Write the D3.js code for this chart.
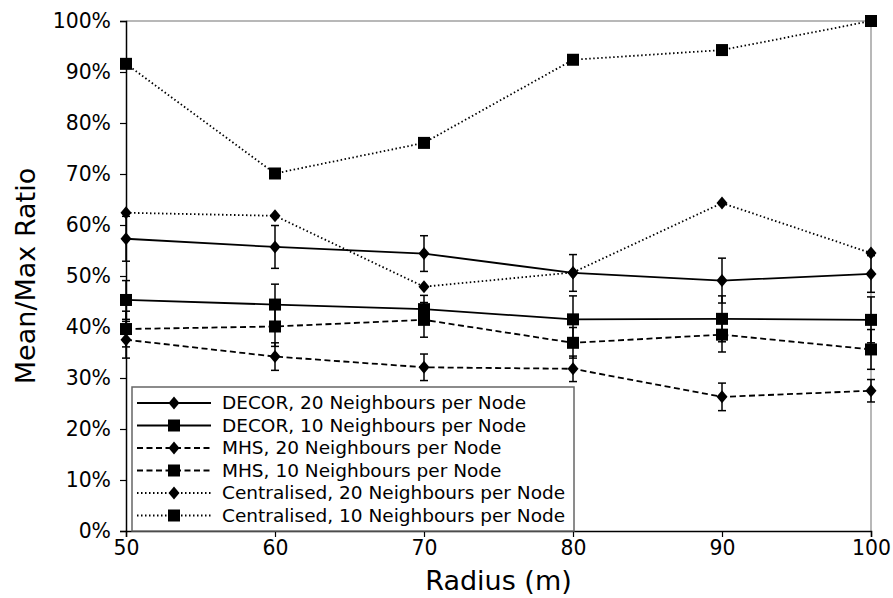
<!DOCTYPE html>
<html lang="en">
<head>
<meta charset="UTF-8">
<title>Mean/Max Ratio vs Radius</title>
<style>
    body { margin: 0; background: #fff; }
    text { font-family: "DejaVu Sans", sans-serif; fill: #000; }
</style>
</head>
<body>
<script src="https://d3js.org/d3.v7.min.js"></script>
<script>
    // radius values on the x axis
    const radius = [50, 60, 70, 80, 90, 100];
    const yTicks = [0, 10, 20, 30, 40, 50, 60, 70, 80, 90, 100];

    // mean/max ratio (%) and error bar half-widths
    const decor20 = [57.3, 55.7, 54.4, 50.6, 49.1, 50.4];
    const decor20Err = [4.4, 4.2, 3.5, 3.6, 4.4, 3.6];
    const decor10 = [45.3, 44.4, 43.5, 41.5, 41.6, 41.4];
    const decor10Err = [3.8, 4.0, 2.7, 4.6, 4.5, 4.5];
    const mhs20 = [37.5, 34.2, 32.1, 31.8, 26.3, 27.5];
    const mhs20Err = [3.6, 2.7, 2.6, 2.5, 2.7, 2.2];
    const mhs10 = [39.6, 40.1, 41.4, 36.9, 38.5, 35.6];
    const mhs10Err = [3.5, 3.9, 3.4, 3.0, 3.4, 3.9];
    const central20 = [62.4, 61.8, 47.9, 50.7, 64.3, 54.5];
    const central10 = [91.6, 70.1, 76.1, 92.4, 94.3, 100];

    const series = [
        { name: 'DECOR, 20 Neighbours per Node', values: decor20, err: decor20Err, dash: null, marker: 'diamond' },
        { name: 'DECOR, 10 Neighbours per Node', values: decor10, err: decor10Err, dash: null, marker: 'square' },
        { name: 'MHS, 20 Neighbours per Node', values: mhs20, err: mhs20Err, dash: '6,3.5', marker: 'diamond' },
        { name: 'MHS, 10 Neighbours per Node', values: mhs10, err: mhs10Err, dash: '6,3.5', marker: 'square' },
        { name: 'Centralised, 20 Neighbours per Node', values: central20, err: null, dash: '1.5,2.5', marker: 'diamond' },
        { name: 'Centralised, 10 Neighbours per Node', values: central10, err: null, dash: '1.5,2.5', marker: 'square' }
    ];

    const width = 893, height = 598;
    const x = d3.scaleLinear().domain([50, 100]).range([126, 871]);
    const y = d3.scaleLinear().domain([0, 100]).range([531, 21]);

    const svg = d3.select('body').append('svg')
        .attr('width', width)
        .attr('height', height);

    // frame: grey top/right, black left/bottom
    svg.append('line').attr('x1', x(50)).attr('x2', x(100)).attr('y1', y(100)).attr('y2', y(100))
        .attr('stroke', '#a0a0a0').attr('stroke-width', 1.5);
    svg.append('line').attr('x1', x(100)).attr('x2', x(100)).attr('y1', y(0)).attr('y2', y(100))
        .attr('stroke', '#a0a0a0').attr('stroke-width', 1.5);

    const xAxis = svg.append('g')
        .attr('transform', `translate(0,${y(0)})`)
        .call(d3.axisBottom(x).tickValues(radius).tickSize(6).tickPadding(4));
    const yAxis = svg.append('g')
        .attr('transform', `translate(${x(50)},0)`)
        .call(d3.axisLeft(y).tickValues(yTicks).tickFormat(d => d + '%').tickSize(6).tickPadding(9));

    [xAxis, yAxis].forEach(a => {
        a.select('.domain').attr('stroke', '#000').attr('stroke-width', 1.5);
        a.selectAll('.tick line').attr('stroke', '#000').attr('stroke-width', 1.2);
        a.selectAll('.tick text').style('font-size', '20.4px').style('font-family', '"DejaVu Sans", sans-serif');
    });

    svg.append('text')
        .attr('x', (x(50) + x(100)) / 2)
        .attr('y', 590)
        .attr('text-anchor', 'middle')
        .style('font-size', '27px')
        .text('Radius (m)');

    svg.append('text')
        .attr('transform', `translate(35,${(y(0) + y(100)) / 2}) rotate(-90)`)
        .attr('text-anchor', 'middle')
        .style('font-size', '27px')
        .text('Mean/Max Ratio');

    function drawMarker(g, type, cx, cy) {
        if (type === 'square') {
            g.append('rect')
                .attr('x', cx - 6).attr('y', cy - 6)
                .attr('width', 12).attr('height', 12)
                .attr('fill', '#000');
        } else {
            g.append('path')
                .attr('d', `M${cx},${cy - 6.5}L${cx + 5.5},${cy}L${cx},${cy + 6.5}L${cx - 5.5},${cy}Z`)
                .attr('fill', '#000');
        }
    }

    const line = d3.line()
        .x((d, i) => x(radius[i]))
        .y(d => y(d));

    const plot = svg.append('g');

    series.forEach(s => {
        const g = plot.append('g');
        g.append('path')
            .datum(s.values)
            .attr('d', line)
            .attr('fill', 'none')
            .attr('stroke', '#000')
            .attr('stroke-width', 1.8)
            .attr('stroke-dasharray', s.dash);

        if (s.err) {
            s.values.forEach((v, i) => {
                const cx = x(radius[i]);
                const lo = y(v - s.err[i]), hi = y(v + s.err[i]);
                g.append('line').attr('x1', cx).attr('x2', cx).attr('y1', lo).attr('y2', hi)
                    .attr('stroke', '#000').attr('stroke-width', 1.5);
                [lo, hi].forEach(cy => {
                    g.append('line').attr('x1', cx - 4).attr('x2', cx + 4).attr('y1', cy).attr('y2', cy)
                        .attr('stroke', '#000').attr('stroke-width', 1.5);
                });
            });
        }

        s.values.forEach((v, i) => drawMarker(g, s.marker, x(radius[i]), y(v)));
    });

    // legend
    const legend = svg.append('g');
    legend.append('rect')
        .attr('x', 132).attr('y', 387)
        .attr('width', 442).attr('height', 144)
        .attr('fill', '#fff')
        .attr('stroke', '#666')
        .attr('stroke-width', 1.5);

    series.forEach((s, i) => {
        const ry = 403 + i * 22.5;
        legend.append('line')
            .attr('x1', 137).attr('x2', 211).attr('y1', ry).attr('y2', ry)
            .attr('stroke', '#000')
            .attr('stroke-width', 1.8)
            .attr('stroke-dasharray', s.dash);
        drawMarker(legend, s.marker, 174, ry);
        legend.append('text')
            .attr('x', 222).attr('y', ry)
            .attr('dy', '0.35em')
            .style('font-size', '18.5px')
            .text(s.name);
    });
</script>
</body>
</html>
